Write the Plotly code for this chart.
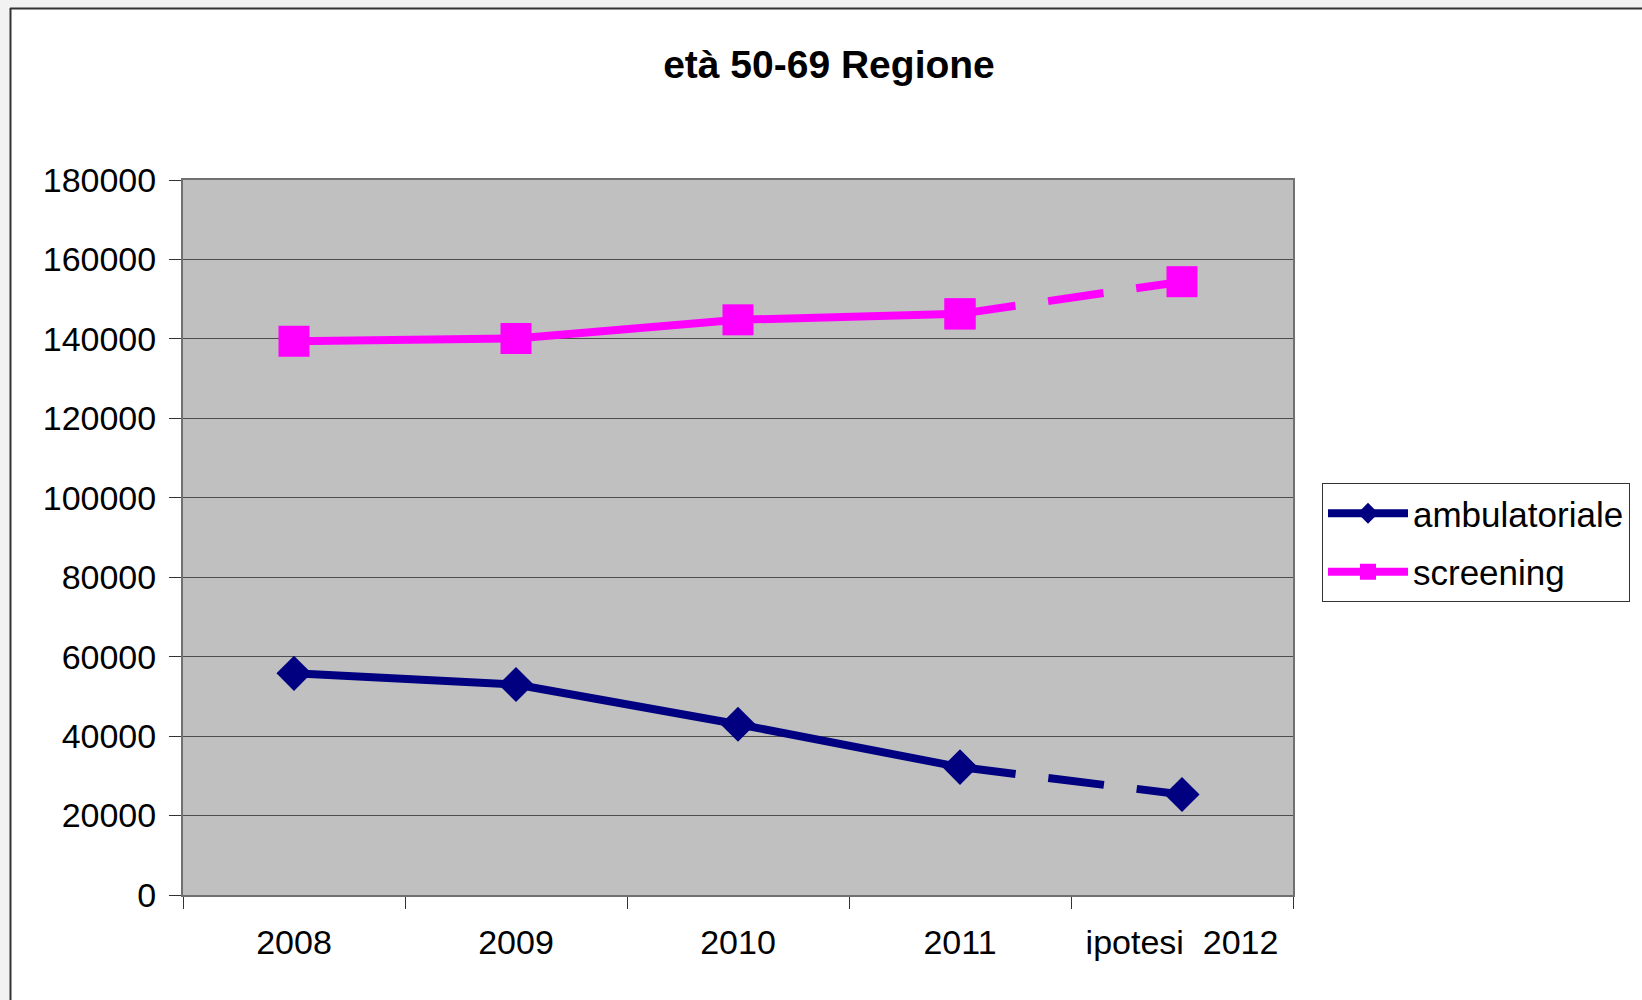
import plotly.graph_objects as go

categories = ["2008", "2009", "2010", "2011", "ipotesi  2012"]
ambulatoriale = [55800, 53000, 43000, 32200, 25300]
screening = [139400, 140100, 144800, 146300, 154400]

y_ticks = [0, 20000, 40000, 60000, 80000, 100000, 120000, 140000, 160000, 180000]

W, H = 1642, 1000
L, R, T, B = 183, 1293, 180, 895
PW, PH = R - L, B - T


def px(x):
    return (x - L) / PW


def py(y):
    return (B - y) / PH


NAVY = "#000080"
MAG = "#ff00ff"
FONT = "Liberation Sans, Arial, sans-serif"

fig = go.Figure()

series = [("ambulatoriale", ambulatoriale, NAVY, "diamond", 27),
          ("screening", screening, MAG, "square", 31)]

for name, vals, col, sym, size in series:
    fig.add_trace(go.Scatter(
        x=categories[:4], y=vals[:4], mode="lines+markers", name=name,
        line=dict(color=col, width=8),
        marker=dict(symbol=sym, size=size, color=col),
        legendgroup=name,
    ))
    fig.add_trace(go.Scatter(
        x=categories[3:], y=vals[3:], mode="lines+markers", name=name,
        line=dict(color=col, width=8, dash="56px,33px"),
        marker=dict(symbol=sym, size=size, color=col),
        legendgroup=name, showlegend=False,
    ))

shapes = [
    # grey strips outside the chart frame
    dict(type="rect", xref="paper", yref="paper", x0=px(0), x1=px(10), y0=py(1000), y1=py(0),
         fillcolor="#f2f2f2", line=dict(width=0), layer="above"),
    dict(type="rect", xref="paper", yref="paper", x0=px(0), x1=px(1642), y0=py(8), y1=py(0),
         fillcolor="#f2f2f2", line=dict(width=0), layer="above"),
    # frame border
    dict(type="line", xref="paper", yref="paper", x0=px(10.5), x1=px(10.5), y0=py(1000), y1=py(8),
         line=dict(color="#333333", width=2), layer="above"),
    dict(type="line", xref="paper", yref="paper", x0=px(10), x1=px(1642), y0=py(8.5), y1=py(8.5),
         line=dict(color="#333333", width=2), layer="above"),
]

fig.update_layout(
    width=W, height=H,
    margin=dict(l=L, r=W - R, t=T, b=H - B),
    paper_bgcolor="white",
    plot_bgcolor="#c0c0c0",
    font=dict(family=FONT, size=34, color="black"),
    title=dict(text="<b>età 50-69 Regione</b>", x=829 / W, xref="container", xanchor="center",
               y=1 - 64 / H, yref="container", yanchor="middle",
               font=dict(family=FONT, size=39, color="black")),
    xaxis=dict(type="category", range=[-0.5, 4.5], tickson="boundaries", ticks="outside",
               ticklen=12, tickcolor="#333333", tickwidth=1, showgrid=False,
               showline=True, mirror=True, linecolor="#707070", linewidth=2,
               tickfont=dict(size=34), ticklabelstandoff=16),
    yaxis=dict(range=[0, 180000], tickvals=y_ticks, tickformat="d", ticks="outside",
               ticklen=12, tickcolor="#333333", tickwidth=1,
               showgrid=True, gridcolor="#4d4d4d", gridwidth=1,
               showline=True, mirror=True, linecolor="#707070", linewidth=2,
               zeroline=False, tickfont=dict(size=34), ticklabelstandoff=6),
    legend=dict(x=px(1322), y=py(483), xanchor="left", yanchor="top",
                bgcolor="white", bordercolor="#333333", borderwidth=1,
                font=dict(family=FONT, size=35), itemwidth=80),
    shapes=shapes,
    showlegend=True,
)

fig.write_html("out.html", config={"displayModeBar": False},
               post_script="document.body.style.margin='0';")
